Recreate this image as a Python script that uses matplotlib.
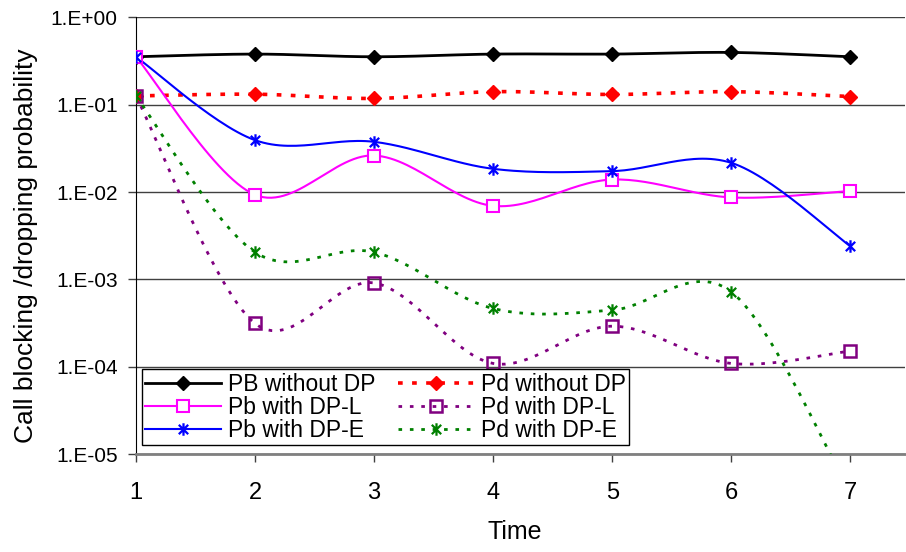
import numpy as np
import matplotlib.pyplot as plt
from matplotlib.path import Path

plt.rcParams['font.family'] = ['Liberation Sans', 'DejaVu Sans']

time = [1, 2, 3, 4, 5, 6, 7]
pb_no_dp = [0.354, 0.38, 0.354, 0.38, 0.38, 0.397, 0.354]
pd_no_dp = [0.126, 0.132, 0.118, 0.141, 0.131, 0.141, 0.124]
pb_dp_l = [0.354, 0.0093, 0.0262, 0.00695, 0.0139, 0.00867, 0.0103]
pd_dp_l = [0.126, 0.000313, 0.00091, 0.000109, 0.000291, 0.000109, 0.000151]
pb_dp_e = [0.354, 0.0393, 0.0376, 0.01845, 0.01735, 0.0216, 0.0024]
pd_dp_e = [0.126, 0.00205, 0.00205, 0.000464, 0.000444, 0.00072, 3.6e-6]

yticks = [1e0, 1e-1, 1e-2, 1e-3, 1e-4, 1e-5]
ytick_labels = ['1.E+00', '1.E-01', '1.E-02', '1.E-03', '1.E-04', '1.E-05']

# excel-like star marker: vertical bar plus an X
star = Path([(0, -1), (0, 1), (-0.75, -0.75), (0.75, 0.75), (-0.75, 0.75), (0.75, -0.75)],
            [Path.MOVETO, Path.LINETO, Path.MOVETO, Path.LINETO, Path.MOVETO, Path.LINETO])


def smooth(x, y, n=30):
    # bezier smoothing like excel's "smoothed line", done in log space
    x = np.asarray(x, float)
    ly = np.log10(np.asarray(y, float))
    px = np.concatenate([[x[0]], x, [x[-1]]])
    py = np.concatenate([[ly[0]], ly, [ly[-1]]])
    xs, ys = [], []
    t = np.linspace(0, 1, n)
    for i in range(1, len(px) - 2):
        p0 = np.array([px[i], py[i]])
        p3 = np.array([px[i + 1], py[i + 1]])
        p1 = p0 + (p3 - np.array([px[i - 1], py[i - 1]])) / 6
        p2 = p3 - (np.array([px[i + 2], py[i + 2]]) - p0) / 6
        b = ((1 - t) ** 3)[:, None] * p0 + (3 * (1 - t) ** 2 * t)[:, None] * p1 \
            + (3 * (1 - t) * t ** 2)[:, None] * p2 + (t ** 3)[:, None] * p3
        xs.extend(b[:, 0])
        ys.extend(b[:, 1])
    return np.array(xs), 10 ** np.array(ys)


fig = plt.figure(figsize=(9.06, 5.52), dpi=100)
ax = fig.add_axes([0.150, 0.1775, 0.849, 0.791])

series = [
    (pb_no_dp, 'PB without DP', dict(color='black', lw=2.0, ls='-'),
     dict(marker='D', ms=7, mfc='black', mec='black')),
    (pd_no_dp, 'Pd without DP', dict(color='#ff0000', lw=2.6, ls=(0, (1.3, 2.6))),
     dict(marker='D', ms=7, mfc='#ff0000', mec='#ff0000')),
    (pb_dp_l, 'Pb with DP-L', dict(color='#ff00ff', lw=1.5, ls='-'),
     dict(marker='s', ms=8, mfc='white', mec='#ff00ff', mew=1.5)),
    (pd_dp_l, 'Pd with DP-L', dict(color='#800080', lw=2.0, ls=(0, (1.3, 2.8))),
     dict(marker='s', ms=8, mfc='none', mec='#800080', mew=1.8)),
    (pb_dp_e, 'Pb with DP-E', dict(color='#0000ff', lw=1.5, ls='-'),
     dict(marker=star, ms=9, mfc='none', mec='#0000ff', mew=1.6)),
    (pd_dp_e, 'Pd with DP-E', dict(color='#008000', lw=2.0, ls=(0, (1.3, 2.8))),
     dict(marker=star, ms=9, mfc='none', mec='#008000', mew=1.6)),
]

handles = {}
for vals, label, lstyle, mstyle in series:
    sx, sy = smooth(time, vals)
    ax.plot(sx, sy, **lstyle, zorder=3)
    ax.plot(time, vals, ls='none', zorder=4, **mstyle)
    h, = ax.plot([], [], label=label, **lstyle, **mstyle)
    handles[label] = h

ax.set_yscale('log')
ax.set_ylim(1e-5, 1)
ax.set_xlim(1, 7.46)
ax.set_yticks(yticks)
ax.set_yticklabels(ytick_labels)
ax.minorticks_off()
ax.set_xticks(time)
ax.yaxis.grid(True, color='#404040', lw=1.0)
ax.set_axisbelow(True)
for s in ['top', 'right']:
    ax.spines[s].set_visible(False)
ax.spines['left'].set_color('black')
ax.spines['bottom'].set_color('#808080')
ax.spines['bottom'].set_linewidth(2)
ax.tick_params(axis='both', length=6, width=1, color='#404040')
ax.tick_params(axis='y', labelsize=15, pad=7)
ax.tick_params(axis='x', labelsize=17, pad=14)
ax.set_xlabel('Time', fontsize=18, labelpad=12, x=0.4925)
ax.set_ylabel('Call blocking /dropping probability', fontsize=19, labelpad=9, y=0.477)

order = ['PB without DP', 'Pb with DP-L', 'Pb with DP-E',
         'Pd without DP', 'Pd with DP-L', 'Pd with DP-E']
leg = ax.legend([handles[k] for k in order], order, ncol=2, loc='lower left',
                bbox_to_anchor=(0.008, 0.02), fontsize=16.5, frameon=True, fancybox=False,
                edgecolor='black', framealpha=1, handlelength=3.3, handletextpad=0.3,
                columnspacing=1.0, labelspacing=0.0, borderpad=0.15, borderaxespad=0)
leg.get_frame().set_linewidth(1.0)

fig.savefig('out.png', dpi=100)
